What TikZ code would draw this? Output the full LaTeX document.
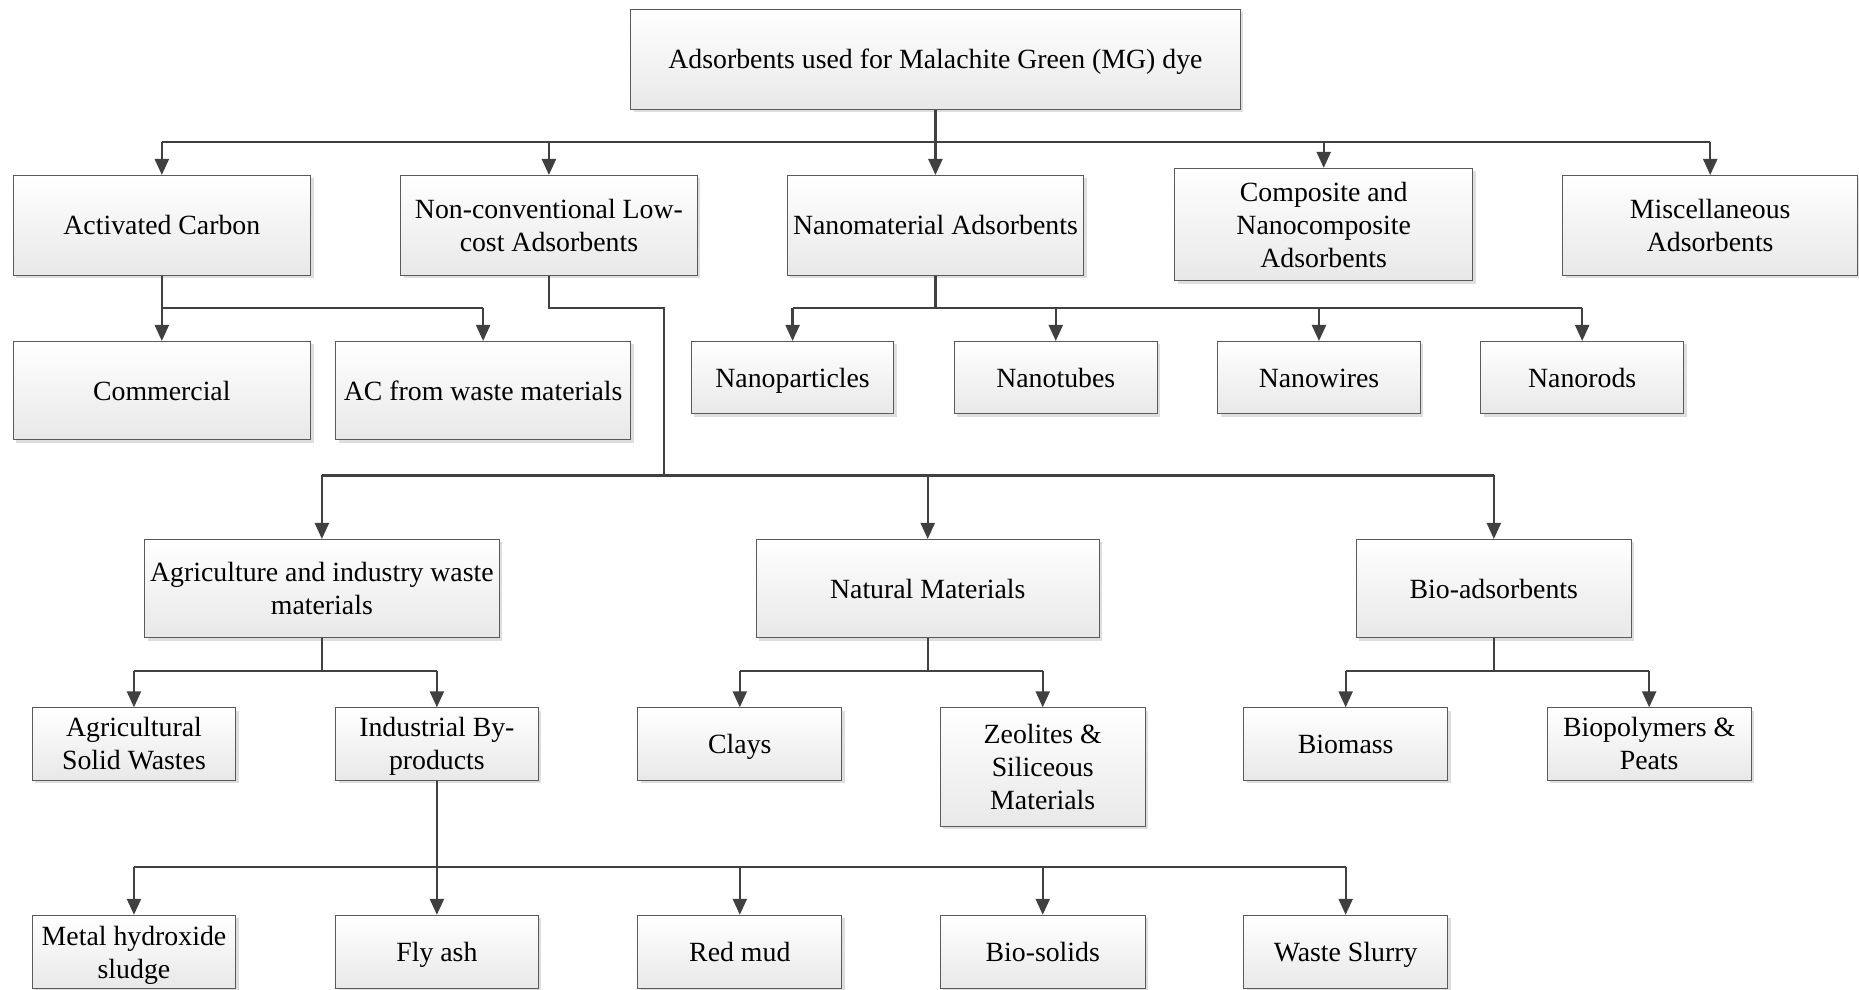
\documentclass[tikz,border=0pt]{standalone}
\usepackage{fontspec}
\setmainfont{Liberation Serif}
\usetikzlibrary{arrows.meta,shadows}
\definecolor{lc}{HTML}{404040}
\definecolor{bd}{HTML}{5A5A5A}
\newcommand\bx[7][]{\node[bx,#1,minimum width={(#5-#3)*1.1856pt},minimum height={(#6-#4)*1.1856pt}] (#2) at ({(#3+#5)/2},{(#4+#6)/2}) {#7};}
\newcommand\botstrut{\rule[-8pt]{0pt}{8pt}}
\begin{document}
\begin{tikzpicture}[x=1.1856pt,y=-1.1856pt,
 bx/.style={draw=bd, line width=1pt, top color=white, bottom color=black!9,
   drop shadow={shadow xshift=3pt, shadow yshift=-3pt, fill=black!13, opacity=1},
   align=center, inner sep=1pt, font=\fontsize{27.8}{33}\selectfont,
   execute at begin node={\rule{0pt}{27pt}}, execute at end node=\botstrut},
 ml/.style={execute at begin node={\rule{0pt}{#1}}},
 ln/.style={draw=lc, line width=2.3pt},
 arr/.style={ln, -{Triangle[length=16pt,width=14pt]}}]
\useasboundingbox[fill=white] (0,0) rectangle (1568,835);

% root
\bx{root}{532}{8}{1046}{92}{Adsorbents used for Malachite Green (MG) dye}
% level 1
\bx{ac}{11}{148}{262}{232}{Activated Carbon}
\bx[ml=60pt]{nc}{338}{148}{588}{232}{Non-conventional Low-\\cost Adsorbents}
\bx{nano}{664}{148}{914}{232}{Nanomaterial Adsorbents}
\bx[ml=93pt]{comp}{991}{142}{1242}{237}{Composite and\\Nanocomposite\\Adsorbents}
\bx[ml=60pt]{misc}{1318}{148}{1567}{232}{Miscellaneous\\Adsorbents}
% AC children
\bx{com}{11}{288}{262}{371}{Commercial}
\bx{acw}{283}{288}{532}{371}{AC from waste materials}
% nano children
\bx{np}{583}{288}{754}{349}{Nanoparticles}
\bx{nt}{805}{288}{976}{349}{Nanotubes}
\bx{nw}{1027}{288}{1198}{349}{Nanowires}
\bx{nr}{1249}{288}{1420}{349}{Nanorods}
% level 3
\bx[ml=60pt]{agri}{122}{455}{421}{538}{Agriculture and industry waste\\materials}
\bx{nat}{638}{455}{927}{538}{Natural Materials}
\bx{bio}{1144}{455}{1376}{538}{Bio-adsorbents}
% level 4
\bx[ml=60pt]{asw}{27}{597}{199}{658}{Agricultural\\Solid Wastes}
\bx[ml=60pt]{ibp}{283}{597}{454}{658}{Industrial By-\\products}
\bx{clay}{538}{597}{710}{658}{Clays}
\bx[ml=93pt]{zeo}{793}{597}{966}{697}{Zeolites \&\\Siliceous\\Materials}
\bx{bms}{1049}{597}{1221}{658}{Biomass}
\bx[ml=60pt]{bpp}{1305}{597}{1477}{658}{Biopolymers \&\\Peats}
% level 5
\bx[ml=60pt]{mhs}{27}{772}{199}{834}{Metal hydroxide\\sludge}
\bx{fly}{283}{772}{454}{834}{Fly ash}
\bx{red}{538}{772}{710}{834}{Red mud}
\bx{bsol}{793}{772}{966}{834}{Bio-solids}
\bx{wsl}{1049}{772}{1221}{834}{Waste Slurry}

% coordinates for buses
\coordinate (b1) at (0,120);
\coordinate (b2) at (0,260);
\coordinate (k1) at (560,260);
\coordinate (k2) at (560,401);
\coordinate (b4) at (0,566);
\coordinate (b5) at (0,731);

% root bus
\draw[ln] (root.south) -- (root.south|-b1);
\draw[ln] (ac.north|-b1) -- (misc.north|-b1);
\foreach \n in {ac,nc,nano,comp,misc} \draw[arr] (\n.north|-b1) -- (\n.north);

% AC
\draw[ln] (ac.south) -- (ac.south|-b2) -- (acw.north|-b2);
\foreach \n in {com,acw} \draw[arr] (\n.north|-b2) -- (\n.north);

% nano
\draw[ln] (nano.south) -- (nano.south|-b2);
\draw[ln] (np.north|-b2) -- (nr.north|-b2);
\foreach \n in {np,nt,nw,nr} \draw[arr] (\n.north|-b2) -- (\n.north);

% non-conventional
\draw[ln] (nc.south) |- (k1) -- (k2);
\draw[ln] (agri.north|-k2) -- (bio.north|-k2);
\foreach \n in {agri,nat,bio} \draw[arr] (\n.north|-k2) -- (\n.north);

% level 3 -> 4
\draw[ln] (agri.south) -- (agri.south|-b4);
\draw[ln] (asw.north|-b4) -- (ibp.north|-b4);
\foreach \n in {asw,ibp} \draw[arr] (\n.north|-b4) -- (\n.north);
\draw[ln] (nat.south) -- (nat.south|-b4);
\draw[ln] (clay.north|-b4) -- (zeo.north|-b4);
\foreach \n in {clay,zeo} \draw[arr] (\n.north|-b4) -- (\n.north);
\draw[ln] (bio.south) -- (bio.south|-b4);
\draw[ln] (bms.north|-b4) -- (bpp.north|-b4);
\foreach \n in {bms,bpp} \draw[arr] (\n.north|-b4) -- (\n.north);

% industrial by-products -> level 5
\draw[ln] (ibp.south) -- (ibp.south|-b5);
\draw[ln] (mhs.north|-b5) -- (wsl.north|-b5);
\foreach \n in {mhs,fly,red,bsol,wsl} \draw[arr] (\n.north|-b5) -- (\n.north);
\end{tikzpicture}
\end{document}
